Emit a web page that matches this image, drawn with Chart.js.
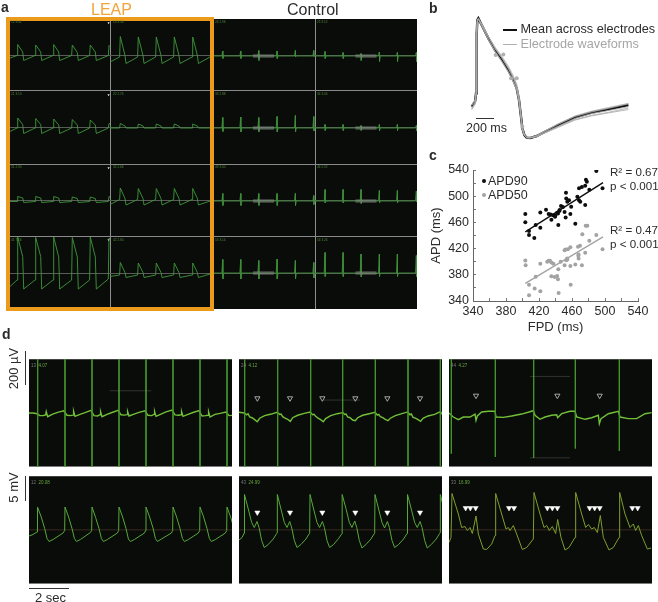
<!DOCTYPE html>
<html><head><meta charset="utf-8">
<script src="https://cdn.jsdelivr.net/npm/chart.js@4/dist/chart.umd.min.js"></script>
<style>
html,body{margin:0;padding:0;background:#fff;width:658px;height:602px;overflow:hidden;font-family:"Liberation Sans",Arial,sans-serif;color:#2b2b2b}
canvas{position:absolute;display:block;filter:blur(.35px)}
.t{position:absolute;white-space:nowrap;line-height:1}
.b{position:absolute;background:#333}
</style></head><body>
<script>
// ---------- panel a : 4x4 electrode grid (time in ms, signal in mV) ----------
const rowNames=[0,1,2,3];
const tCol0=[0,350,385,635,685,1250,1285,1535,1585,2150,2185,2435,2485,3080,3115,3365,3415,3980,4015,4265,4315,4915,4950,5000];
const tCol1=[0,480,515,750,800,1380,1415,1650,1700,2280,2315,2550,2600,3180,3215,3450,3500,4100,4135,4370,4420,5000];
const leapR1C0=[-.4,.1,2.3,.8,-.9,.1,2.2,.8,-.9,.1,2.3,.8,-.9,.1,2.2,.7,-.9,.1,2.2,.8,-.9,.1,2.1,1.9];
const leapR2C0=[-.7,0,2,.7,-1.1,0,1.9,.7,-1.1,0,1.8,.6,-1.1,0,1.7,.6,-1.1,0,1.6,.6,-1.1,0,.9,.8];
const leapR3C0=[-.1,-.1,.9,.6,-.3,-.1,.9,.6,-.3,-.1,.9,.6,-.3,-.1,.8,.5,-.3,-.1,.8,.5,-.3,-.1,.9,.8];
const leapR4C0=[-2.7,-1.4,7.2,3.3,-3.2,-1.4,7.1,3.3,-3.2,-1.4,7.2,3.2,-3.2,-1.4,7.1,3.2,-3.2,-1.4,7.2,3.2,-3.2,-1.2,7,6.8];
const leapR1C1=[-1.2,-.2,3.9,.1,-1.5,-.2,3.8,.1,-1.5,-.2,3.8,.1,-1.5,-.2,3.8,.1,-1.5,-.2,3.8,.1,-1.5,-.2];
const leapR2C1=[0,0,.9,.4,0,0,.8,.4,0,0,.8,.4,0,0,.8,.4,0,0,.8,.4,0,0];
const leapR3C1=[-.7,.3,2.6,.5,-.8,.3,2.5,.5,-.8,.3,2.5,.5,-.8,.3,2.5,.5,-.8,.3,2.5,.5,-.8,0];
const leapR4C1=[-.7,-.4,2.1,.1,-.9,-.4,2,.1,-.9,-.4,2,.1,-.9,-.4,2,.1,-.9,-.4,2,.1,-.9,-.2];
const ctrlTimesC2=[485,1385,2285,3200,4115,5035];
const ctrlTimesC3=[475,1375,2275,3190,4090,5040];
const ctrlUpR1C2=[1,1,1.1,1,1.1,1.1], ctrlDownR1C2=[-.5,-.5,-.9,-.5,-.2,-.1];
const ctrlUpR1C3=[.9,.7,.5,.8,.7,.7], ctrlDownR1C3=[-.5,-.5,-.9,-1.1,-1.1,-1.1];
const ctrlUpR2C2=[2.1,2.2,2.1,2.3,2.5,2.3], ctrlDownR2C2=[-.7,-.8,-.8,-.8,-.8,-.6];
const ctrlUpR2C3=[.7,.7,.5,.7,.7,.5], ctrlDownR2C3=[-.5,-.5,-.5,-.6,-.5,-.6];
const ctrlUpR3C2=[1.5,1.5,1.5,1.5,1.5,1.1], ctrlDownR3C2=[-.9,-.9,-.9,-.9,-.9,-.7];
const ctrlUpR3C3=[2.3,2.3,2.3,2.1,2.1,2], ctrlDownR3C3=[-.4,-.4,-.5,-.4,-.4,-.2];
const ctrlUpR4C2=[2.7,2.7,2.5,2.8,2.5,2.1], ctrlDownR4C2=[-1.2,-1.2,-1.2,-1.2,-1.2,-1];
const ctrlUpR4C3=[4.1,4.1,3.8,3.8,3.8,3.5], ctrlDownR4C3=[-.7,-.7,-.8,-.7,-.7,-.7];
const gridLabels=["12 3.02","13 3.58","24 2.96","25 3.12","21 3.10","22 2.74","33 2.88","34 3.04","31 2.90","32 2.66","43 3.00","44 2.92","41 7.66","42 2.80","53 3.14","54 3.26"];
const artefactStart=2000, artefactEnd=3050;

// ---------- panel b : normalised waveform (time in ms) ----------
const waveTime=[0,38,49,57,64,75,113,189,264,339,415,471,509,535,558,573,596,622,660,735,829,980,1169,1357,1546,1772];
const waveMean=[.262,.304,.373,.875,.986,1,.944,.833,.735,.657,.568,.485,.415,.318,.178,.081,.025,.003,0,.017,.053,.109,.173,.212,.24,.276];
const waveE1=[.235,.28,.36,.87,.98,.995,.95,.85,.76,.685,.6,.52,.45,.345,.19,.085,.025,.004,.002,.012,.045,.095,.155,.19,.215,.25];
const waveE2=[.25,.29,.365,.87,.98,.99,.935,.82,.72,.64,.55,.47,.4,.3,.165,.07,.02,.002,.001,.02,.06,.12,.185,.225,.255,.29];
const waveE3=[.27,.31,.38,.88,.99,1,.95,.845,.75,.675,.585,.505,.43,.335,.19,.09,.03,.006,.003,.015,.05,.1,.165,.205,.23,.262];
const waveE4=[.28,.32,.39,.88,.985,.995,.94,.825,.725,.645,.555,.47,.405,.305,.17,.075,.022,.003,0,.022,.058,.115,.18,.218,.248,.285];
const waveE5=[.245,.295,.37,.875,.985,1,.955,.85,.745,.67,.58,.5,.425,.33,.18,.085,.028,.005,.003,.01,.042,.09,.15,.185,.21,.238];
const waveMarkT=[271,358,445,509,573], waveMarkV=[.694,.699,.499,.499,.095];

// ---------- panel c : FPD vs APD ----------
const apd90=[[403.4,472.7],[403.4,460.4],[407.9,446.7],[407.9,440.6],[414.3,436],[416,455.9],[421.6,475.2],[421.6,451.8],[428.5,479.3],[431.7,472.7],[434,472],[435,464],[437,471],[439.4,468.6],[439.8,470],[442,474.7],[443,473.7],[443.4,456],[444.6,477.3],[446.7,484.9],[449,483.4],[451,476],[452.3,467.6],[452.7,505.3],[453,496.6],[454.3,491.5],[456.4,494],[458,473],[464,458],[466.5,499],[468.5,494],[468.5,512],[472,514],[476,516],[478,522],[476.9,525],[481,510],[489.5,538.5],[497,512],[470,491.5],[476,486.5],[459,484],[445,479]];
const apd50=[[403.4,401.8],[403.8,394.6],[407.9,365],[407.9,348.8],[414.7,359],[416,377],[421.6,354.9],[421.6,396.7],[430,399.8],[431.7,401.3],[433.3,401.3],[435,398.7],[437.4,397],[435,377.8],[439,376.8],[442,378.3],[443,373.2],[443.4,388.5],[443.8,352.3],[446.3,399.8],[451,417.6],[451,394.6],[454,404.9],[452.3,418.6],[455,419],[458,422],[453,402.3],[454.3,403.3],[458,393.6],[458.4,365],[464,395.7],[467.7,409],[467.3,422.7],[469.7,424.2],[472.5,442],[476.6,454.8],[478.6,454.8],[481,431.9],[489.5,440.6],[497,419],[472,394.6],[468,404.9],[468,411],[476,413.5]];
const fit90=[[403.4,445.6],[497.6,520.6]];
const fit50=[[403.4,367],[497.6,438]];
const axisTicks=[340,380,420,460,500,540];

// ---------- panel d : six traces (time in ms; top in uV, bottom in mV) ----------
const d1Stim=[433,1800,3150,4500,5850,7200,8550,9900];
const d1TopLeadT=[0,200,410], d1TopLeadV=[0,0,-4];
const d1TopOff=[100,280,400,430,500,750,1000,1300];
const d1TopBeats=[[-15,-14,-11,8,-21,-6,4,13],[-13,-15,-12,10,-19,-8,2,15],[-15,-17,-10,7,-21,-8,3,15],[-10,-12,-9,8,-17,-6,4,13],[-13,-15,-8,9,-19,-6,6,17],[-11,-13,-10,8,-19,-8,3,14],[-17,-15,-13,6,-23,-8,-2,6],[-15,-13,-11,7,-20,-6,0,-4]];
const d1BotLeadT=[0,200,400], d1BotLeadV=[-1.2,-.9,-.4];
const d1BotOff=[-17,0,180,350,470,570,770,1270];
const d1BotBeats=[[-.1,4.6,2.6,.3,-1.7,-2.3,-1.9,-.6],[-.1,4.6,2.6,.3,-1.7,-2.3,-1.9,-.5],[-.1,4.6,2.5,.3,-1.7,-2.3,-1.9,-.6],[-.1,4.6,2.6,.3,-1.8,-2.3,-1.9,-.6],[-.1,4.6,2.6,.4,-1.7,-2.3,-1.8,-.6],[-.1,4.6,2.6,.3,-1.7,-2.3,-1.9,-.6],[-.1,4.6,2.6,.3,-1.7,-2.3,-1.9,-.6],[-.1,4.6,2.6,.3,-1.7,-2.3,-1.9,-.6]];

const d2Stim=[283,1933,3583,5183,6817,8450,10067];
const d2TopLeadT=[0,270], d2TopLeadV=[4,0];
const d2TopOff=[100,170,250,370,500,630,750,1000,1330,1620];
const d2TopBeats=[[-10,-4,-23,-27,-38,-50,-30,-15,-6,4],[-8,-6,-21,-29,-36,-48,-27,-13,-2,6],[-10,-8,-19,-29,-38,-50,-32,-15,-4,2],[-8,-6,-23,-27,-40,-44,-27,-13,-4,4],[-12,-8,-21,-27,-36,-44,-30,-15,-4,6],[-10,-6,-25,-29,-38,-48,-30,-17,-8,8],[-8,-6,-20,-25,-35,-45,-30,-15,-5,0]];
const d2PeakT=[283,1917,3550,5167,6800,8433,10067];
const d2BotLeadT=[0,150,265], d2BotLeadV=[-2,-1.5,-.6];
const d2BotOff=[-17,0,180,350,480,620,720,850,980,1180,1430,1600];
const d2BotBeats=[[-.5,7.1,4.2,1.5,.5,1.7,.5,-2.1,-3.5,-2.9,-1.8,-.7],[-.5,7.1,4.2,1.5,.5,1.7,.4,-2.1,-3.5,-2.9,-1.8,-.7],[-.5,7.1,4.2,1.5,.5,1.7,.5,-2.1,-3.5,-2.9,-1.7,-.7],[-.5,7.1,4.3,1.5,.5,1.8,.5,-2.1,-3.6,-2.9,-1.8,-.7],[-.5,7.1,4.2,1.5,.4,1.7,.5,-2.1,-3.5,-2.9,-1.8,-.7],[-.5,7.1,4.2,1.5,.5,1.7,.5,-2.1,-3.6,-2.9,-1.8,-.7],[-.5,7.1,4.2,1.5,.5,1.7,.5,-2.1,-3.5,-2.9,-1.8,-.7]];
const d2TriT=[917,2550,4167,5817,7417,9050];

const d3Stim=[117,2317,4233,6317,8517];
const d3StimLow=[-232,-251,-256,-203,-217];
const d3TopT=[0,217,467,717,1050,1300,1350,1417,1633,1967,2300,2350,2717,3133,3633,4217,4300,4550,4800,5133,5383,5433,5633,6050,6300,6383,6800,7133,7467,7517,7600,7967,8467,8550,8967,9383,9800,10133];
const d3TopV=[0,-23,-38,-23,-23,-6,-42,-17,6,10,10,-23,-25,-17,-6,13,-13,-36,-23,-13,-10,-27,-4,10,10,-23,-36,-27,-13,-61,-32,-4,10,-23,-32,-32,-4,2];
const d3TriTopT=[1350,5417,7533];
const d3BotT=[0,100,150,467,633,800,917,1050,1167,1350,1467,1717,1883,2133,2300,2333,2633,2850,2967,3050,3217,3383,3667,3883,4217,4250,4550,4750,4883,5017,5167,5333,5433,5600,5800,6000,6300,6333,6633,6833,6967,7133,7267,7417,7567,7717,8000,8217,8500,8533,8800,9050,9217,9333,9467,9633,9917,10100];
const d3BotV=[-2.5,-1.5,7.3,3.2,.5,.7,-.1,.5,-.7,2.8,-.8,-3.8,-3.9,-2.8,-1.1,7.3,3.2,.2,.5,-.1,.9,-.8,-3.9,-3.5,-1.8,7.5,3.2,.5,.9,-.1,.7,-.7,2.1,-1.5,-4,-3.5,-1.5,7.5,3.2,.5,1.1,.2,.5,-.5,2.9,-1.5,-4,-3.5,-1.5,7.5,3.2,.5,1.2,-.1,.9,-1.1,-3.8,-3.6];
const d3TriBotT=[833,1067,1333,3000,3250,4917,5167,5417,7033,7283,7533,9167,9433];
const d1Labels=["13","4.07"], d1bLabels=["12","20.08"], d2Labels=["24","4.12"], d2bLabels=["43","24.99"], d3Labels=["44","4.27"], d3bLabels=["33","16.99"];

// ---------- helpers (layout and styles) ----------
Chart.defaults.animation=false;
Chart.defaults.font.family='"Liberation Sans",Arial,sans-serif';
Chart.defaults.layout.autoPadding=false;
function canvas(x,y,w,h,bg){const c=document.createElement('canvas');c.width=w;c.height=h;c.style.cssText=`left:${x}px;top:${y}px;width:${w}px;height:${h}px;`+(bg?`background:${bg};`:'');document.body.appendChild(c);return c;}
function text(s,x,y,size,opt={}){const d=document.createElement('div');d.className='t';d.innerHTML=s;d.style.cssText=`left:${x}px;top:${y}px;font-size:${size}px;`+(opt.css||'');document.body.appendChild(d);return d;}
function bar(x,y,w,h,c){const d=document.createElement('div');d.className='b';d.style.cssText=`left:${x}px;top:${y}px;width:${w}px;height:${h}px;`+(c?`background:${c};`:'');document.body.appendChild(d);}
const zip=(t,v)=>t.map((x,i)=>({x,y:v[i]}));
const lineSet=(data,color,width)=>({data,borderColor:color,borderWidth:width,pointRadius:0,showLine:true,tension:0,fill:false});
const triSet=(t,v,open)=>({data:t.map(x=>({x,y:v})),showLine:false,pointStyle:'triangle',rotation:180,pointRadius:3,pointBackgroundColor:open?'rgba(0,0,0,0)':'#fff',pointBorderColor:open?'#b5b5b5':'#fff',pointBorderWidth:open?.9:.5});
const noLegend={legend:{display:false},tooltip:{enabled:false}};
const lay={padding:0,autoPadding:false};
const noScalePad=s=>{s.paddingTop=0;s.paddingBottom=0;s.paddingLeft=0;s.paddingRight=0;};

// ---------- panel a ----------
const colStart=[0,5000,10150,15275];
const rowBase=[50.6,36.2,21.6,7.2];
const sepX=[5000,15275], sepY=[14.4,29,43.6];
const shift=(t,v,c,r)=>t.map((x,i)=>({x:x+colStart[c],y:v[i]+rowBase[r]}));
function spikeTrace(times,up,down,c,r,end){const p=[{x:colStart[c],y:rowBase[r]}];times.forEach((t,i)=>{const T=t+colStart[c],B=rowBase[r];if(t<end){p.push({x:T-40,y:B},{x:T,y:B+up[i]},{x:T+10,y:B+down[i]},{x:T+50,y:B});}});return p;}
const aSets=[];
const G='#3f983b';
[leapR1C0,leapR2C0,leapR3C0,leapR4C0].forEach((v,r)=>aSets.push(lineSet(shift(tCol0,v,0,r),G,.9)));
[leapR1C1,leapR2C1,leapR3C1,leapR4C1].forEach((v,r)=>aSets.push(lineSet(shift(tCol1,v,1,r),G,.9)));
const band=[];
[2,3].forEach(c=>rowNames.forEach(r=>{band.push({x:colStart[c]+artefactStart,y:rowBase[r]},{x:colStart[c]+artefactEnd,y:rowBase[r]},{x:colStart[c]+artefactEnd,y:null});}));
aSets.push({...lineSet(band,'rgba(140,140,140,.5)',3.5),spanGaps:false});
[[ctrlUpR1C2,ctrlDownR1C2,2,0],[ctrlUpR2C2,ctrlDownR2C2,2,1],[ctrlUpR3C2,ctrlDownR3C2,2,2],[ctrlUpR4C2,ctrlDownR4C2,2,3],
 [ctrlUpR1C3,ctrlDownR1C3,3,0],[ctrlUpR2C3,ctrlDownR2C3,3,1],[ctrlUpR3C3,ctrlDownR3C3,3,2],[ctrlUpR4C3,ctrlDownR4C3,3,3]].forEach(a=>{
  const tr=spikeTrace(a[2]==2?ctrlTimesC2:ctrlTimesC3,a[0],a[1],a[2],a[3],5200);
  tr.push({x:a[2]==2?colStart[3]:20350,y:rowBase[a[3]]});
  aSets.push(lineSet(tr,'#3f8f3a',.9));
});
aSets.push({data:rowBase.map(y=>({x:4930,y:y+6.6})),showLine:false,pointStyle:'triangle',rotation:180,pointRadius:1.3,pointBackgroundColor:'#eee',pointBorderWidth:0});
bar(10,19,407,290,'#0a0c0a');
new Chart(canvas(10,19,407,290),{type:'scatter',data:{datasets:aSets},options:{responsive:false,layout:lay,plugins:noLegend,
 scales:{
  x:{min:0,max:20350,ticks:{display:false},border:{display:false},afterBuildTicks:s=>{s.ticks=sepX.map(value=>({value}));},grid:{drawTicks:false,color:'#8e8e8e',lineWidth:1},afterFit:s=>{s.height=0;}},
  y:{min:0,max:58,ticks:{display:false},border:{display:false},afterBuildTicks:s=>{s.ticks=[...sepY,...rowBase].map(value=>({value}));},grid:{drawTicks:false,color:c=>sepY.includes(c.tick.value)?'#8a8a8a':'#5a5a5a',lineWidth:1},afterFit:s=>{s.width=0;}}
 }}});
// orange frame and titles
const fr=document.createElement('div');fr.style.cssText='position:absolute;left:6px;top:17px;width:200px;height:286px;border:4px solid #ec9a1c;';document.body.appendChild(fr);
text('LEAP',91,2,16,{css:'color:#f0a43a;'});
text('Control',287,2,16);
gridLabels.forEach((s,i)=>{const c=i%4,r=Math.floor(i/4);const X=[11,113,215,317][c],Y=[21,93,166,239][r];text(s,X,Y,3.2,{css:'color:#4f8a36;'});});

// ---------- panel b ----------
const W='#aaaaaa';
new Chart(canvas(467,12,165,133),{type:'scatter',data:{datasets:[
 ...[waveE1,waveE2,waveE3,waveE4,waveE5].map(v=>lineSet(zip(waveTime,v),W,.8)),
 {data:zip(waveMarkT,waveMarkV),showLine:false,pointRadius:2,pointBackgroundColor:'#b0b0b0',pointBorderWidth:0},
 lineSet(zip(waveTime,waveMean),'#111',2.4)
]},options:{responsive:false,layout:lay,plugins:noLegend,scales:{x:{display:false,min:-53,max:1813},y:{display:false,min:-.058,max:1.053}}}});
bar(503,28.5,14,2,'#111');
bar(503,44,14,1,'#b0b0b0');
text('Mean across electrodes',520.5,23,12.7);
text('Electrode waveforms',520.5,38,12.7,{css:'color:#a6a6a6;'});
bar(476,117.5,18,1.2,'#333');
text('200 ms',466,122,12.5);

// ---------- panel c ----------
new Chart(canvas(425,160,225,175),{type:'scatter',data:{datasets:[
 {label:'APD50',data:apd50.map(p=>({x:p[0],y:p[1]})),pointRadius:2,pointBackgroundColor:'#a3a3a3',pointBorderWidth:0},
 {label:'APD90',data:apd90.map(p=>({x:p[0],y:p[1]})),pointRadius:2,pointBackgroundColor:'#0d0d0d',pointBorderWidth:0},
 lineSet(fit50.map(p=>({x:p[0],y:p[1]})),'#a3a3a3',1.4),
 lineSet(fit90.map(p=>({x:p[0],y:p[1]})),'#0d0d0d',1.4)
]},options:{responsive:false,layout:{padding:{top:10,right:12,left:0,bottom:0},autoPadding:false},plugins:noLegend,scales:{
 x:{min:340,max:540,border:{display:true,color:'#666',width:1},grid:{drawOnChartArea:false,drawTicks:true,tickLength:-3,color:'#777'},
    ticks:{stepSize:20,autoSkip:false,maxRotation:0,padding:6,color:'#2b2b2b',font:{size:12.5},callback:v=>axisTicks.includes(v)?String(v):''},
    title:{display:true,text:'FPD (ms)',color:'#2b2b2b',font:{size:13},padding:{top:0,bottom:0}},afterFit:s=>{s.height=34;noScalePad(s);}},
 y:{min:340,max:540,border:{display:true,color:'#666',width:1},grid:{drawOnChartArea:false,drawTicks:true,tickLength:-3,color:'#777'},
    ticks:{stepSize:20,autoSkip:false,padding:7,color:'#2b2b2b',font:{size:12.5},callback:v=>axisTicks.includes(v)?String(v):''},
    title:{display:true,text:'APD (ms)',color:'#2b2b2b',font:{size:13},padding:{top:4,bottom:0}},afterFit:s=>{s.width=48;noScalePad(s);}}
}}});
function dot(x,y,c){const d=document.createElement('div');d.style.cssText=`position:absolute;left:${x-2}px;top:${y-2}px;width:4px;height:4px;border-radius:50%;background:${c};`;document.body.appendChild(d);}
dot(484.3,181,'#0d0d0d');dot(484.3,194.5,'#a3a3a3');
text('APD90',488,175,12.5);text('APD50',488,188.5,12.5);
text('R² = 0.67',610,166,11.6);text('p &lt; 0.001',610,180,11.6);
text('R² = 0.47',610,224,11.6);text('p &lt; 0.001',610,238,11.6);

// ---------- panel d ----------
function beats(starts,off,rows,leadT,leadV){const p=leadT?zip(leadT,leadV):[];starts.forEach((s,i)=>off.forEach((o,j)=>p.push({x:s+o,y:rows[i][j]})));return p;}
function stimSet(times,low,high,color){const p=[];times.forEach((t,i)=>{p.push({x:t,y:high},{x:t,y:low[i]},{x:t,y:null});});return {...lineSet(p,color,.9),spanGaps:false};}
function dPanel(x,y,h,half,sets,center,labels){
 new Chart(canvas(x,y,203,h,'#0a0c0a'),{type:'scatter',data:{datasets:sets},options:{responsive:false,layout:lay,plugins:noLegend,scales:{
  x:{display:false,min:0,max:10150},
  y:{min:-half,max:half,ticks:{display:false},border:{display:false},afterBuildTicks:s=>{s.ticks=[-half,0,half].map(value=>({value}));},
     grid:{drawTicks:false,color:c=>c.tick.value===0?center:'#7a7a7a',lineWidth:1.5},afterFit:s=>{s.width=0;}}
 }}});
 text(labels[0],x+2,y+5,4.5,{css:'color:#777;'});
 text(labels[1],x+9.5,y+5,4.5,{css:'color:#6aa83c;'});
}
const topG='#72bf38', stimG='#47962d', botG='#58a93a', dim='rgba(150,150,150,.35)', midLine='rgba(90,60,40,.4)';
const HT=308.5, HB=10.8, fullLow=n=>new Array(n).fill(-HT);
const hairline=(a,b,v)=>lineSet([{x:a,y:v},{x:b,y:v}],dim,.8);

dPanel(29,359,108,HT,[hairline(4033,6117,127),stimSet(d1Stim,fullLow(d1Stim.length),HT,stimG),lineSet(beats(d1Stim,d1TopOff,d1TopBeats,d1TopLeadT,d1TopLeadV),topG,1.4)],'rgba(0,0,0,0)',d1Labels);
dPanel(29,476,108,HB,[lineSet(beats(d1Stim,d1BotOff,d1BotBeats,d1BotLeadT,d1BotLeadV),botG,1)],midLine,d1bLabels);
dPanel(239,359,108,HT,[hairline(4217,6050,74),stimSet(d2Stim,fullLow(d2Stim.length),HT,stimG),lineSet(beats(d2Stim,d2TopOff,d2TopBeats,d2TopLeadT,d2TopLeadV),topG,1.4),triSet(d2TriT,84,true)],'rgba(0,0,0,0)',d2Labels);
dPanel(239,476,108,HB,[lineSet(beats(d2PeakT,d2BotOff,d2BotBeats,d2BotLeadT,d2BotLeadV),botG,1),triSet(d2TriT,3.5,false)],midLine,d2bLabels);
dPanel(449,359,108,HT,[hairline(4050,6050,209),hairline(4050,6050,-256),stimSet(d3Stim,d3StimLow,HT,stimG),lineSet(zip(d3TopT,d3TopV),topG,1.4),triSet(d3TriTopT,99,true)],'rgba(0,0,0,0)',d3Labels);
dPanel(449,476,108,HB,[lineSet(zip(d3BotT,d3BotV),'#7f9f2e',1),triSet(d3TriBotT,4.4,false)],midLine,d3bLabels);

bar(25,351,1.3,34,'#333');
bar(25,476,1.3,25,'#333');
bar(29,587.5,40,1.3,'#333');
text('200 µV',6,368,13,{css:'transform:translate(-50%,0) rotate(-90deg);transform-origin:50% 50%;left:13px;top:362px;'});
text('5 mV',6,480,13,{css:'transform:translate(-50%,0) rotate(-90deg);transform-origin:50% 50%;left:13px;top:481px;'});
text('2 sec',35,591,13);

// panel letters
text('a',1,0,14,{css:'font-weight:bold;'});
text('b',429,1,14,{css:'font-weight:bold;'});
text('c',429,148,14,{css:'font-weight:bold;'});
text('d',2,327,14,{css:'font-weight:bold;'});
</script>
</body></html>
